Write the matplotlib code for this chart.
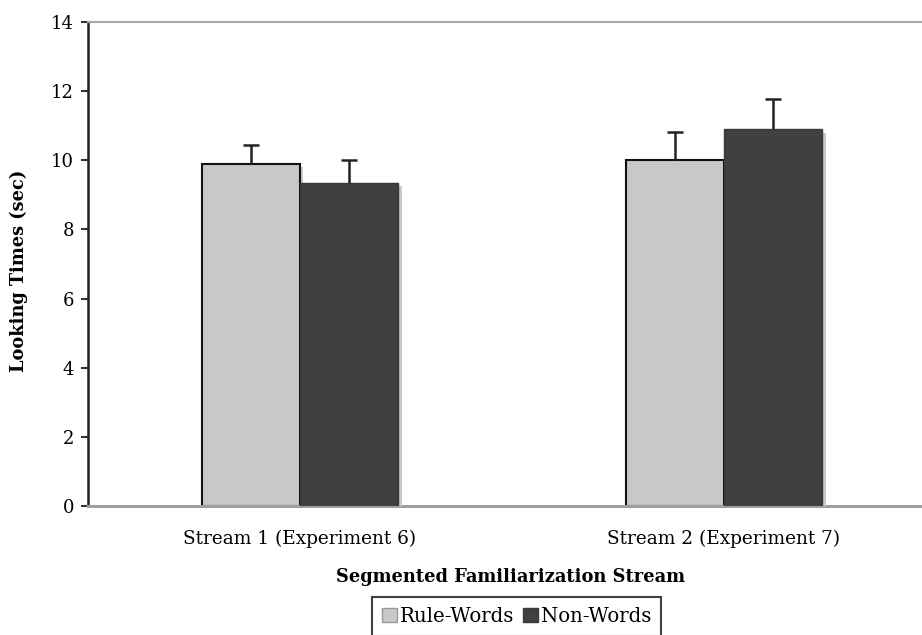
import matplotlib
matplotlib.use('Agg')
import matplotlib.pyplot as plt
import matplotlib.patheffects as pe
import numpy as np

streams   = ['Stream 1 (Experiment 6)', 'Stream 2 (Experiment 7)']
rule_mean = [9.9, 10.0]
rule_err  = [0.55, 0.82]
non_mean  = [9.35, 10.9]
non_err   = [0.65, 0.88]

plt.rcParams['font.family'] = ['DejaVu Serif']

fig = plt.figure(figsize=(9.22, 6.35), dpi=100)
ax = fig.add_axes([88/922, 129/635, 848/922, 484/635])

x = np.arange(len(streams))
w = 0.232
shadow = [pe.SimplePatchShadow(offset=(2.4, -2.4), shadow_rgbFace='#c9c9c9', alpha=1.0),
          pe.Normal()]

b1 = ax.bar(x - w/2, rule_mean, w, color='#c8c8c8', edgecolor='#111111',
            linewidth=1.5, label='Rule-Words', zorder=2)
b2 = ax.bar(x + w/2, non_mean, w, color='#404040', edgecolor='#3a3a3a',
            linewidth=1.0, label='Non-Words', zorder=3)
for p in list(b1) + list(b2):
    p.set_path_effects(shadow)

# upper error bars only: stem plus a cap marker at the top
for xs, m, e in [(x - w/2, rule_mean, rule_err), (x + w/2, non_mean, non_err)]:
    top = np.array(m) + np.array(e)
    ax.vlines(xs, m, top, colors='#222222', linewidth=1.8, zorder=4)
    ax.plot(xs, top, ls='none', marker='_', markersize=12, mew=1.8,
            color='#222222', zorder=4)

ax.set_xlim(-0.5, 1.5)
ax.set_ylim(0, 14)
ax.set_yticks(range(0, 15, 2))
ax.set_xticks(x)
ax.set_xticklabels(streams, fontsize=13.3)
ax.tick_params(axis='x', length=0, pad=17)
ax.tick_params(axis='y', labelsize=13, length=5, width=1.5, color='#333333', pad=5)

ax.spines['left'].set_color('#222222')
ax.spines['left'].set_linewidth(1.8)
ax.spines['bottom'].set_color('#a0a0a0')
ax.spines['bottom'].set_linewidth(2.2)
ax.spines['top'].set_color('#a8a8a8')
ax.spines['top'].set_linewidth(1.5)
ax.spines['right'].set_visible(False)

ax.set_ylabel('Looking Times (sec)', fontsize=12.8, fontweight='bold')
ax.yaxis.set_label_coords(-60/848, 0.485)
fig.text(510/922, 1 - 577/635, 'Segmented Familiarization Stream', fontsize=12.9,
         fontweight='bold', ha='center', va='center')

leg = fig.legend(handles=[b1, b2], loc='upper left',
                 bbox_to_anchor=(372/922, 1 - 597/635), ncol=2, fontsize=14.2,
                 frameon=True, fancybox=False, edgecolor='#111111',
                 handlelength=0.75, handleheight=0.75, handletextpad=0.15,
                 columnspacing=0.45, borderpad=0.5, borderaxespad=0)
leg.get_frame().set_linewidth(1.5)
for h in leg.legend_handles:
    h.set_path_effects([])
leg.legend_handles[0].set_edgecolor('#9a9a9a')
leg.legend_handles[0].set_linewidth(1.0)

fig.savefig('out.png', dpi=100)
